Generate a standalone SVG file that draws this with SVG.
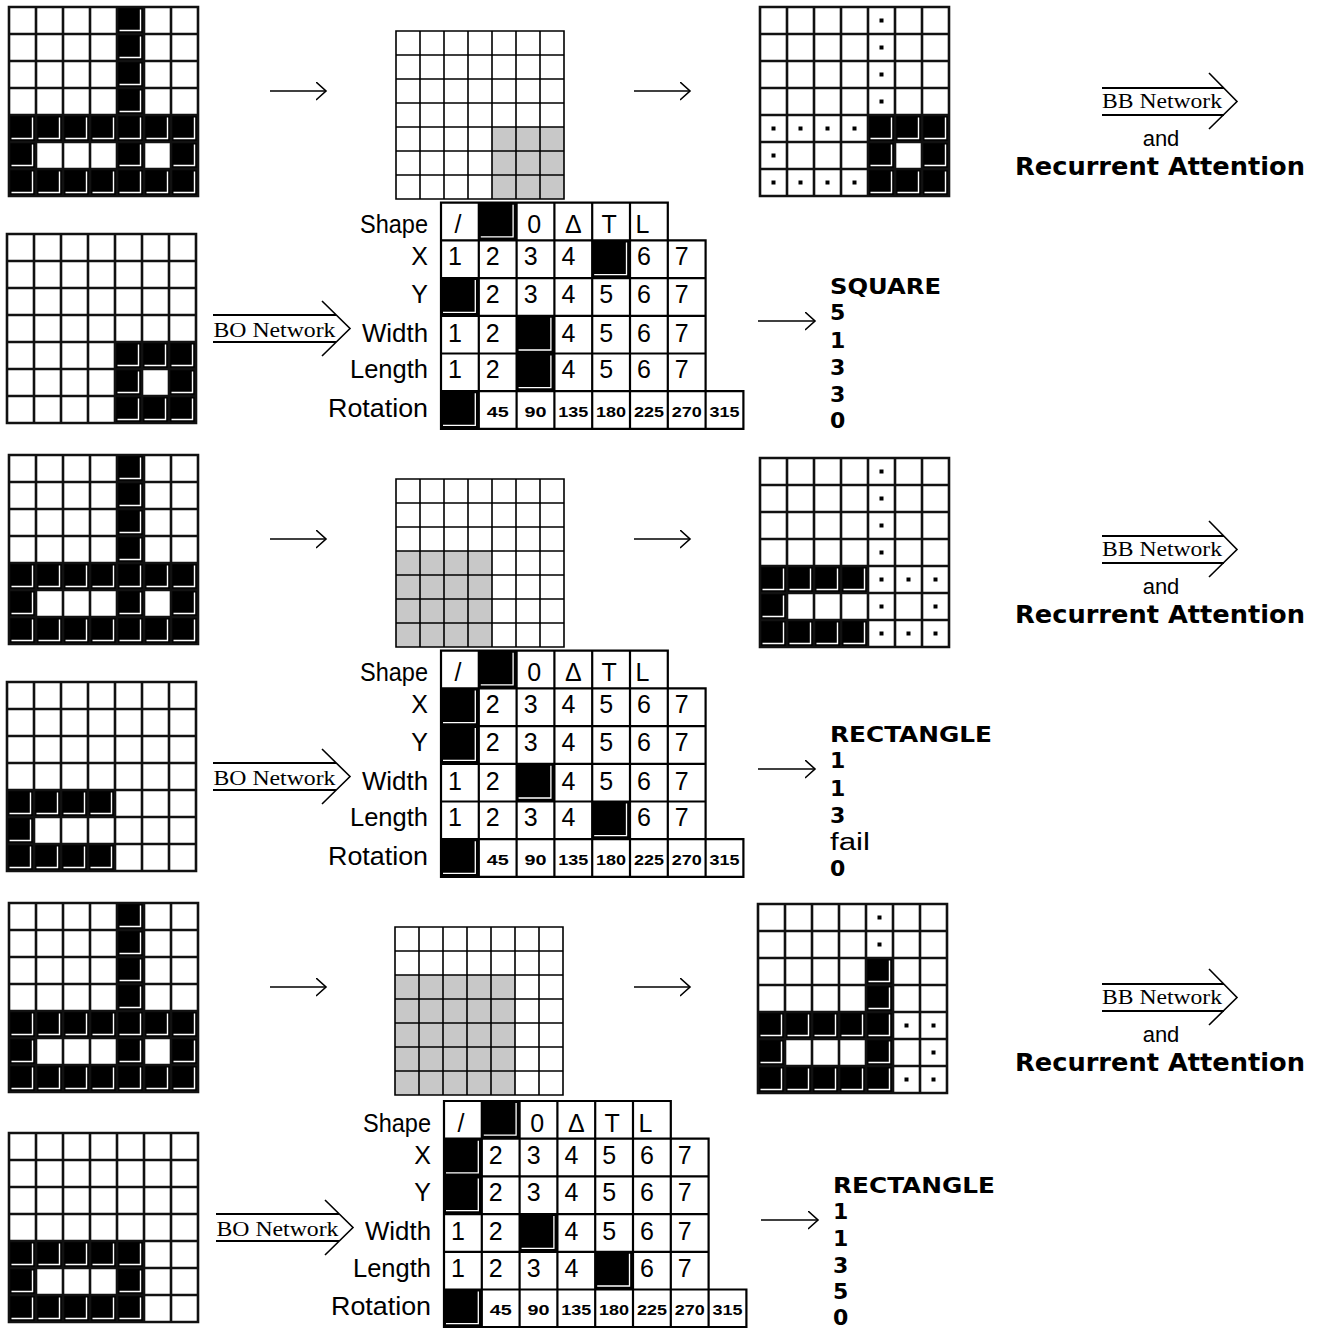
<svg xmlns="http://www.w3.org/2000/svg" xmlns:xlink="http://www.w3.org/1999/xlink" width="1322" height="1328" viewBox="0 0 1322 1328">
<style>
.lb{font-family:"Liberation Sans",Arial,sans-serif;font-size:25px;text-anchor:end;fill:#000}
.dg{font-family:"Liberation Sans",Arial,sans-serif;font-size:25px;text-anchor:middle;fill:#000}
.rt{font-family:"Liberation Sans",Arial,sans-serif;font-size:14px;text-anchor:middle;fill:#000;font-weight:bold}
.ob{font-family:"DejaVu Sans",Verdana,sans-serif;font-size:22px;font-weight:bold;fill:#000}
.or{font-family:"Liberation Sans",Arial,sans-serif;font-size:23px;fill:#000}
.nt{font-family:"Liberation Serif","Times New Roman",serif;font-size:22px;fill:#000}
.an{font-family:"Liberation Sans",Arial,sans-serif;font-size:22px;fill:#000;text-anchor:middle}
.ra{font-family:"DejaVu Sans",Verdana,sans-serif;font-size:24px;font-weight:bold;fill:#000}
.ln{stroke:#000;stroke-width:1.6;fill:none}
.dl{stroke:#000;stroke-width:2;fill:none}
.ch{stroke:#000;stroke-width:1.6;fill:none}
</style>
<defs>
<marker id="ah" markerUnits="userSpaceOnUse" markerWidth="14" markerHeight="22" refX="10" refY="9.5" orient="auto">
<path d="M0,0.5 L10,9.5 L0,18.5" fill="none" stroke="#000" stroke-width="1.6"/>
</marker>
<rect id="w27" width="189" height="189" fill="#fff"/>
<path id="l27" d="M0 0H189M0 27H189M0 54H189M0 81H189M0 108H189M0 135H189M0 162H189M0 189H189M0 0V189M27 0V189M54 0V189M81 0V189M108 0V189M135 0V189M162 0V189M189 0V189" stroke="#111" stroke-width="2.6" stroke-linecap="square" fill="none"/>
<g id="b"><rect width="27" height="27" fill="#000"/><polyline points="2.5,23.5 23.5,23.5 23.5,2.5" fill="none" stroke="#fff" stroke-width="1.4"/></g>
<rect id="d" x="11.5" y="11.5" width="4" height="4" fill="#000"/>
<path id="l24" d="M0 0H168M0 24H168M0 48H168M0 72H168M0 96H168M0 120H168M0 144H168M0 168H168M0 0V168M24 0V168M48 0V168M72 0V168M96 0V168M120 0V168M144 0V168M168 0V168" stroke="#000" stroke-width="1.6" stroke-linecap="square" fill="none"/>
<g id="tb"><rect width="37.8" height="37.7" fill="#000"/><polyline points="2,34.2 34.3,34.2 34.3,2" fill="none" stroke="#fff" stroke-width="1.3"/></g>
<path id="tg" d="M0 0H226.8M0 37.7H264.6M0 75.4H264.6M0 113.1H264.6M0 150.8H264.6M0 188.5H302.4M0 226.2H302.4M0 0V226.2M37.8 0V226.2M75.6 0V226.2M113.4 0V226.2M151.2 0V226.2M189 0V226.2M226.8 0V226.2M264.6 37.7V226.2M302.4 188.5V226.2" stroke="#000" stroke-width="2.2" stroke-linecap="square" fill="none"/>
<g id="patA">
<use href="#w27"/>
<use href="#b" x="108" y="0"/><use href="#b" x="108" y="27"/><use href="#b" x="108" y="54"/><use href="#b" x="108" y="81"/>
<use href="#b" x="0" y="108"/><use href="#b" x="27" y="108"/><use href="#b" x="54" y="108"/><use href="#b" x="81" y="108"/><use href="#b" x="108" y="108"/><use href="#b" x="135" y="108"/><use href="#b" x="162" y="108"/>
<use href="#b" x="0" y="135"/><use href="#b" x="108" y="135"/><use href="#b" x="162" y="135"/>
<use href="#b" x="0" y="162"/><use href="#b" x="27" y="162"/><use href="#b" x="54" y="162"/><use href="#b" x="81" y="162"/><use href="#b" x="108" y="162"/><use href="#b" x="135" y="162"/><use href="#b" x="162" y="162"/>
<use href="#l27"/>
</g>
<g id="labels">
<text class="lb" x="-13" y="30.5" textLength="68" lengthAdjust="spacingAndGlyphs">Shape</text>
<text class="lb" x="-13" y="62.5">X</text>
<text class="lb" x="-13" y="100.3">Y</text>
<text class="lb" x="-13" y="139" textLength="66" lengthAdjust="spacingAndGlyphs">Width</text>
<text class="lb" x="-13" y="175.5" textLength="78" lengthAdjust="spacingAndGlyphs">Length</text>
<text class="lb" x="-13" y="214" textLength="100" lengthAdjust="spacingAndGlyphs">Rotation</text>
<text class="dg" x="17" y="30.5">/</text>
<text class="dg" x="93.1" y="30.5">0</text>
<text class="dg" x="132.3" y="30.5">Δ</text>
<text class="dg" x="168.2" y="30.5">T</text>
<text class="dg" x="201.5" y="30.5">L</text>
<text class="rt" x="56.7" y="214" textLength="22" lengthAdjust="spacingAndGlyphs">45</text>
<text class="rt" x="94.5" y="214" textLength="22" lengthAdjust="spacingAndGlyphs">90</text>
<text class="rt" x="132.3" y="214" textLength="30" lengthAdjust="spacingAndGlyphs">135</text>
<text class="rt" x="170.1" y="214" textLength="30" lengthAdjust="spacingAndGlyphs">180</text>
<text class="rt" x="207.9" y="214" textLength="30" lengthAdjust="spacingAndGlyphs">225</text>
<text class="rt" x="245.7" y="214" textLength="30" lengthAdjust="spacingAndGlyphs">270</text>
<text class="rt" x="283.5" y="214" textLength="30" lengthAdjust="spacingAndGlyphs">315</text>
</g>
</defs>
<rect width="1322" height="1328" fill="#fff"/>

<!-- ===== Section 1 ===== -->
<g id="s1-input"><use href="#patA" x="9" y="7"/></g>
<g id="s1-attention" transform="translate(396,31)">
<rect width="168" height="168" fill="#fff"/><rect x="96" y="96" width="72" height="72" fill="#c8c8c8"/><use href="#l24"/>
</g>
<g id="s1-remaining" transform="translate(760,7)">
<use href="#w27"/>
<use href="#b" x="108" y="108"/><use href="#b" x="135" y="108"/><use href="#b" x="162" y="108"/><use href="#b" x="108" y="135"/><use href="#b" x="162" y="135"/><use href="#b" x="108" y="162"/><use href="#b" x="135" y="162"/><use href="#b" x="162" y="162"/>
<use href="#d" x="108" y="0"/><use href="#d" x="108" y="27"/><use href="#d" x="108" y="54"/><use href="#d" x="108" y="81"/>
<use href="#d" x="0" y="108"/><use href="#d" x="27" y="108"/><use href="#d" x="54" y="108"/><use href="#d" x="81" y="108"/>
<use href="#d" x="0" y="135"/>
<use href="#d" x="0" y="162"/><use href="#d" x="27" y="162"/><use href="#d" x="54" y="162"/><use href="#d" x="81" y="162"/>
<use href="#l27"/>
</g>
<g id="s1-object" transform="translate(7,234)">
<use href="#w27"/>
<use href="#b" x="108" y="108"/><use href="#b" x="135" y="108"/><use href="#b" x="162" y="108"/><use href="#b" x="108" y="135"/><use href="#b" x="162" y="135"/><use href="#b" x="108" y="162"/><use href="#b" x="135" y="162"/><use href="#b" x="162" y="162"/>
<use href="#l27"/>
</g>
<g id="s1-table" transform="translate(441,202.7)">
<use href="#tb" x="37.8" y="0"/>
<use href="#tb" x="151.2" y="37.7"/>
<use href="#tb" x="0" y="75.4"/>
<use href="#tb" x="75.6" y="113.1"/>
<use href="#tb" x="75.6" y="150.8"/>
<use href="#tb" x="0" y="188.5"/>
<use href="#tg"/>
<use href="#labels"/>
<text class="dg" x="14" y="62.5">1</text><text class="dg" x="51.8" y="62.5">2</text><text class="dg" x="89.6" y="62.5">3</text><text class="dg" x="127.4" y="62.5">4</text><text class="dg" x="203" y="62.5">6</text><text class="dg" x="240.8" y="62.5">7</text>
<text class="dg" x="51.8" y="100.3">2</text><text class="dg" x="89.6" y="100.3">3</text><text class="dg" x="127.4" y="100.3">4</text><text class="dg" x="165.2" y="100.3">5</text><text class="dg" x="203" y="100.3">6</text><text class="dg" x="240.8" y="100.3">7</text>
<text class="dg" x="14" y="139">1</text><text class="dg" x="51.8" y="139">2</text><text class="dg" x="127.4" y="139">4</text><text class="dg" x="165.2" y="139">5</text><text class="dg" x="203" y="139">6</text><text class="dg" x="240.8" y="139">7</text>
<text class="dg" x="14" y="175.5">1</text><text class="dg" x="51.8" y="175.5">2</text><text class="dg" x="127.4" y="175.5">4</text><text class="dg" x="165.2" y="175.5">5</text><text class="dg" x="203" y="175.5">6</text><text class="dg" x="240.8" y="175.5">7</text>
</g>
<g id="s1-output">
<text class="ob" x="830" y="294" textLength="111" lengthAdjust="spacingAndGlyphs">SQUARE</text>
<text class="ob" x="830" y="320">5</text>
<text class="ob" x="830" y="348">1</text>
<text class="ob" x="830" y="375">3</text>
<text class="ob" x="830" y="401.5">3</text>
<text class="ob" x="830" y="428">0</text>
</g>
<g id="s1-bb">
<text class="an" x="1161" y="145.7">and</text>
<text class="ra" x="1015" y="175" textLength="290" lengthAdjust="spacingAndGlyphs">Recurrent Attention</text>
</g>

<!-- ===== Section 2 ===== -->
<g id="s2-input"><use href="#patA" x="9" y="455"/></g>
<g id="s2-attention" transform="translate(396,479)">
<rect width="168" height="168" fill="#fff"/><rect x="0" y="72" width="96" height="96" fill="#c8c8c8"/><use href="#l24"/>
</g>
<g id="s2-remaining" transform="translate(760,458)">
<use href="#w27"/>
<use href="#b" x="0" y="108"/><use href="#b" x="27" y="108"/><use href="#b" x="54" y="108"/><use href="#b" x="81" y="108"/><use href="#b" x="0" y="135"/><use href="#b" x="0" y="162"/><use href="#b" x="27" y="162"/><use href="#b" x="54" y="162"/><use href="#b" x="81" y="162"/>
<use href="#d" x="108" y="0"/><use href="#d" x="108" y="27"/><use href="#d" x="108" y="54"/><use href="#d" x="108" y="81"/>
<use href="#d" x="108" y="108"/><use href="#d" x="135" y="108"/><use href="#d" x="162" y="108"/>
<use href="#d" x="108" y="135"/><use href="#d" x="162" y="135"/>
<use href="#d" x="108" y="162"/><use href="#d" x="135" y="162"/><use href="#d" x="162" y="162"/>
<use href="#l27"/>
</g>
<g id="s2-object" transform="translate(7,682)">
<use href="#w27"/>
<use href="#b" x="0" y="108"/><use href="#b" x="27" y="108"/><use href="#b" x="54" y="108"/><use href="#b" x="81" y="108"/><use href="#b" x="0" y="135"/><use href="#b" x="0" y="162"/><use href="#b" x="27" y="162"/><use href="#b" x="54" y="162"/><use href="#b" x="81" y="162"/>
<use href="#l27"/>
</g>
<g id="s2-table" transform="translate(441,650.7)">
<use href="#tb" x="37.8" y="0"/>
<use href="#tb" x="0" y="37.7"/>
<use href="#tb" x="0" y="75.4"/>
<use href="#tb" x="75.6" y="113.1"/>
<use href="#tb" x="151.2" y="150.8"/>
<use href="#tb" x="0" y="188.5"/>
<use href="#tg"/>
<use href="#labels"/>
<text class="dg" x="51.8" y="62.5">2</text><text class="dg" x="89.6" y="62.5">3</text><text class="dg" x="127.4" y="62.5">4</text><text class="dg" x="165.2" y="62.5">5</text><text class="dg" x="203" y="62.5">6</text><text class="dg" x="240.8" y="62.5">7</text>
<text class="dg" x="51.8" y="100.3">2</text><text class="dg" x="89.6" y="100.3">3</text><text class="dg" x="127.4" y="100.3">4</text><text class="dg" x="165.2" y="100.3">5</text><text class="dg" x="203" y="100.3">6</text><text class="dg" x="240.8" y="100.3">7</text>
<text class="dg" x="14" y="139">1</text><text class="dg" x="51.8" y="139">2</text><text class="dg" x="127.4" y="139">4</text><text class="dg" x="165.2" y="139">5</text><text class="dg" x="203" y="139">6</text><text class="dg" x="240.8" y="139">7</text>
<text class="dg" x="14" y="175.5">1</text><text class="dg" x="51.8" y="175.5">2</text><text class="dg" x="89.6" y="175.5">3</text><text class="dg" x="127.4" y="175.5">4</text><text class="dg" x="203" y="175.5">6</text><text class="dg" x="240.8" y="175.5">7</text>
</g>
<g id="s2-output">
<text class="ob" x="830" y="742" textLength="162" lengthAdjust="spacingAndGlyphs">RECTANGLE</text>
<text class="ob" x="830" y="768">1</text>
<text class="ob" x="830" y="796">1</text>
<text class="ob" x="830" y="823">3</text>
<text class="or" x="830" y="849.5" textLength="40" lengthAdjust="spacingAndGlyphs">fail</text>
<text class="ob" x="830" y="876">0</text>
</g>
<g id="s2-bb">
<text class="an" x="1161" y="593.7">and</text>
<text class="ra" x="1015" y="623" textLength="290" lengthAdjust="spacingAndGlyphs">Recurrent Attention</text>
</g>

<!-- ===== Section 3 ===== -->
<g id="s3-input"><use href="#patA" x="9" y="903"/></g>
<g id="s3-attention" transform="translate(395,927)">
<rect width="168" height="168" fill="#fff"/><rect x="0" y="48" width="120" height="120" fill="#c8c8c8"/><use href="#l24"/>
</g>
<g id="s3-remaining" transform="translate(758,904)">
<use href="#w27"/>
<use href="#b" x="108" y="54"/><use href="#b" x="108" y="81"/>
<use href="#b" x="0" y="108"/><use href="#b" x="27" y="108"/><use href="#b" x="54" y="108"/><use href="#b" x="81" y="108"/><use href="#b" x="108" y="108"/>
<use href="#b" x="0" y="135"/><use href="#b" x="108" y="135"/>
<use href="#b" x="0" y="162"/><use href="#b" x="27" y="162"/><use href="#b" x="54" y="162"/><use href="#b" x="81" y="162"/><use href="#b" x="108" y="162"/>
<use href="#d" x="108" y="0"/><use href="#d" x="108" y="27"/>
<use href="#d" x="135" y="108"/><use href="#d" x="162" y="108"/>
<use href="#d" x="162" y="135"/>
<use href="#d" x="135" y="162"/><use href="#d" x="162" y="162"/>
<use href="#l27"/>
</g>
<g id="s3-object" transform="translate(9,1133)">
<use href="#w27"/>
<use href="#b" x="0" y="108"/><use href="#b" x="27" y="108"/><use href="#b" x="54" y="108"/><use href="#b" x="81" y="108"/><use href="#b" x="108" y="108"/>
<use href="#b" x="0" y="135"/><use href="#b" x="108" y="135"/>
<use href="#b" x="0" y="162"/><use href="#b" x="27" y="162"/><use href="#b" x="54" y="162"/><use href="#b" x="81" y="162"/><use href="#b" x="108" y="162"/>
<use href="#l27"/>
</g>
<g id="s3-table" transform="translate(444,1101)">
<use href="#tb" x="37.8" y="0"/>
<use href="#tb" x="0" y="37.7"/>
<use href="#tb" x="0" y="75.4"/>
<use href="#tb" x="75.6" y="113.1"/>
<use href="#tb" x="151.2" y="150.8"/>
<use href="#tb" x="0" y="188.5"/>
<use href="#tg"/>
<use href="#labels"/>
<text class="dg" x="51.8" y="62.5">2</text><text class="dg" x="89.6" y="62.5">3</text><text class="dg" x="127.4" y="62.5">4</text><text class="dg" x="165.2" y="62.5">5</text><text class="dg" x="203" y="62.5">6</text><text class="dg" x="240.8" y="62.5">7</text>
<text class="dg" x="51.8" y="100.3">2</text><text class="dg" x="89.6" y="100.3">3</text><text class="dg" x="127.4" y="100.3">4</text><text class="dg" x="165.2" y="100.3">5</text><text class="dg" x="203" y="100.3">6</text><text class="dg" x="240.8" y="100.3">7</text>
<text class="dg" x="14" y="139">1</text><text class="dg" x="51.8" y="139">2</text><text class="dg" x="127.4" y="139">4</text><text class="dg" x="165.2" y="139">5</text><text class="dg" x="203" y="139">6</text><text class="dg" x="240.8" y="139">7</text>
<text class="dg" x="14" y="175.5">1</text><text class="dg" x="51.8" y="175.5">2</text><text class="dg" x="89.6" y="175.5">3</text><text class="dg" x="127.4" y="175.5">4</text><text class="dg" x="203" y="175.5">6</text><text class="dg" x="240.8" y="175.5">7</text>
</g>
<g id="s3-output">
<text class="ob" x="833" y="1193" textLength="162" lengthAdjust="spacingAndGlyphs">RECTANGLE</text>
<text class="ob" x="833" y="1219">1</text>
<text class="ob" x="833" y="1246">1</text>
<text class="ob" x="833" y="1272.5">3</text>
<text class="ob" x="833" y="1299">5</text>
<text class="ob" x="833" y="1325">0</text>
</g>
<g id="s3-bb">
<text class="an" x="1161" y="1041.7">and</text>
<text class="ra" x="1015" y="1071" textLength="290" lengthAdjust="spacingAndGlyphs">Recurrent Attention</text>
</g>

<!-- ===== Connectors ===== -->
<g id="connectors">
<path class="ln" d="M270 91H326" marker-end="url(#ah)"/>
<path class="ln" d="M634 91H690" marker-end="url(#ah)"/>
<path class="ln" d="M758 321H815" marker-end="url(#ah)"/>
<path class="ln" d="M270 539H326" marker-end="url(#ah)"/>
<path class="ln" d="M634 539H690" marker-end="url(#ah)"/>
<path class="ln" d="M758 769H815" marker-end="url(#ah)"/>
<path class="ln" d="M270 987H326" marker-end="url(#ah)"/>
<path class="ln" d="M634 987H690" marker-end="url(#ah)"/>
<path class="ln" d="M761 1220H818" marker-end="url(#ah)"/>
<g id="bb1">
<path class="dl" d="M1102 88H1224M1102 115H1224"/><path class="ch" d="M1209 73L1237 101.5L1209 129"/>
<text class="nt" x="1102" y="108" textLength="120" lengthAdjust="spacingAndGlyphs">BB Network</text>
</g>
<g id="bb2" transform="translate(0,448)">
<path class="dl" d="M1102 88H1224M1102 115H1224"/><path class="ch" d="M1209 73L1237 101.5L1209 129"/>
<text class="nt" x="1102" y="108" textLength="120" lengthAdjust="spacingAndGlyphs">BB Network</text>
</g>
<g id="bb3" transform="translate(0,896)">
<path class="dl" d="M1102 88H1224M1102 115H1224"/><path class="ch" d="M1209 73L1237 101.5L1209 129"/>
<text class="nt" x="1102" y="108" textLength="120" lengthAdjust="spacingAndGlyphs">BB Network</text>
</g>
<g id="bo1">
<path class="dl" d="M213 315H336M213 342H336"/><path class="ch" d="M322 301L350 328.5L322 356"/>
<text class="nt" x="213.5" y="336.5" textLength="122" lengthAdjust="spacingAndGlyphs">BO Network</text>
</g>
<g id="bo2" transform="translate(0,448)">
<path class="dl" d="M213 315H336M213 342H336"/><path class="ch" d="M322 301L350 328.5L322 356"/>
<text class="nt" x="213.5" y="336.5" textLength="122" lengthAdjust="spacingAndGlyphs">BO Network</text>
</g>
<g id="bo3" transform="translate(3,899)">
<path class="dl" d="M213 315H336M213 342H336"/><path class="ch" d="M322 301L350 328.5L322 356"/>
<text class="nt" x="213.5" y="336.5" textLength="122" lengthAdjust="spacingAndGlyphs">BO Network</text>
</g>
</g>
</svg>
